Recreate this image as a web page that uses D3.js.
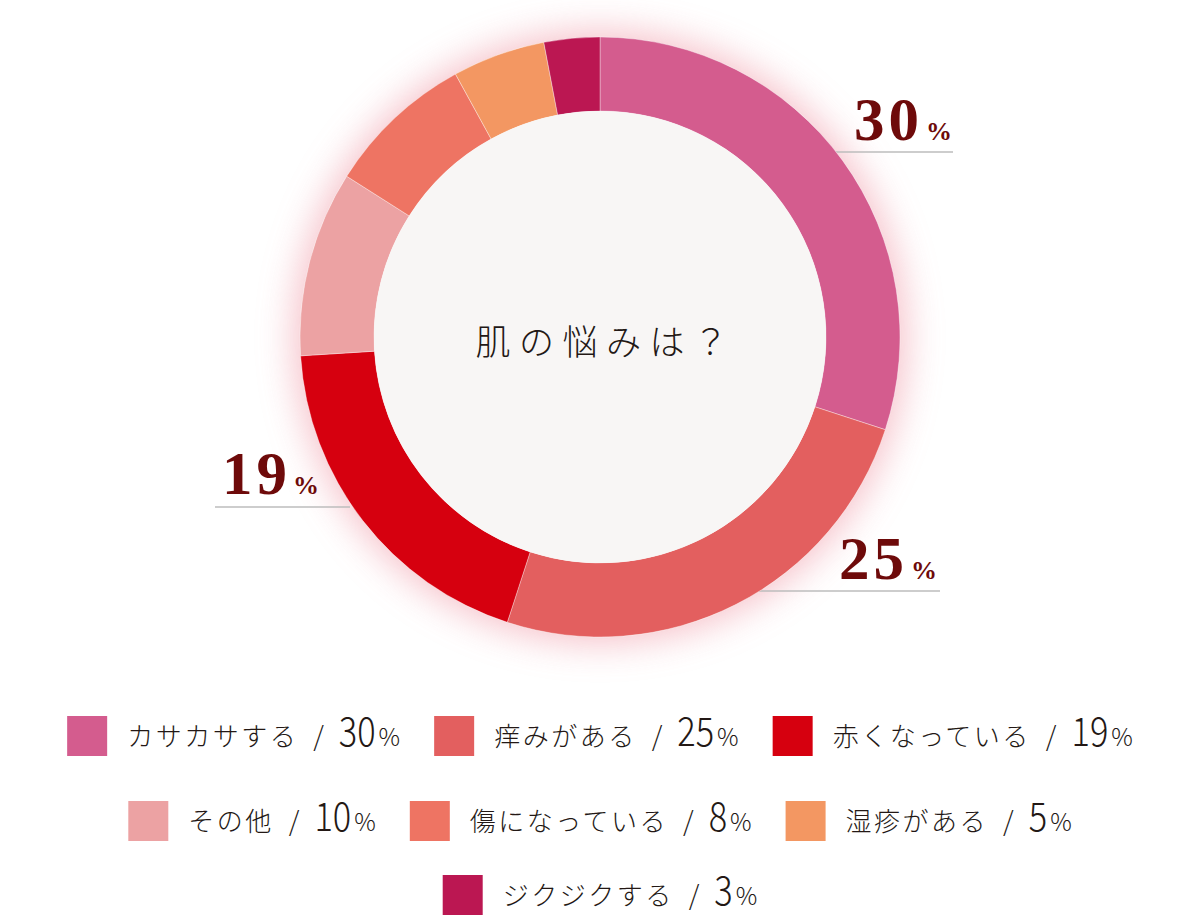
<!DOCTYPE html>
<html><head><meta charset="utf-8">
<script src="https://cdn.jsdelivr.net/npm/d3@7"></script>
<style>
html,body{margin:0;padding:0;background:#fff;}
svg{display:block;}
</style></head>
<body>
<svg id="chart" width="1200" height="918"></svg>
<script>
// ---- data ----
const categories = ["カサカサする","痒みがある","赤くなっている","その他","傷になっている","湿疹がある","ジクジクする"];
const values = [30,25,19,10,8,5,3];
const colors = ["#D45C8E","#E35F5F","#D6000F","#ECA2A3","#EE7463","#F39762","#BB1752"];
const centerTitle = "肌の悩みは？";
const calloutIndex = [0,1,2];           // slices with big callout labels
const legendRows = [[0,1,2],[3,4,5],[6]];

// ---- layout ----
const W = 1200, cx = 600, cy = 337, R = 300, r = 226;
const svg = d3.select("#chart");
const defs = svg.append("defs");
const f = defs.append("filter").attr("id","glow").attr("x","-30%").attr("y","-30%").attr("width","160%").attr("height","160%");
f.append("feGaussianBlur").attr("stdDeviation",18);

// callout geometry (layout, not data)
const calloutLayout = [
  {tx:854, ty:140, lx1:835, lx2:953, ly:152, px:926},
  {tx:839, ty:579, lx1:755, lx2:940, ly:591, px:911},
  {tx:222, ty:494, lx1:215, lx2:350, ly:507, px:293}
];

// glow
svg.append("circle").attr("cx",cx).attr("cy",cy).attr("r",R+6)
  .attr("fill","#F2A7B3").attr("opacity",0.7).attr("filter","url(#glow)");

// callout lines (under donut)
const gl = svg.append("g");
calloutIndex.forEach((idx,k)=>{
  const L = calloutLayout[k];
  gl.append("line").attr("x1",L.lx1).attr("x2",L.lx2).attr("y1",L.ly).attr("y2",L.ly)
    .attr("stroke","#BDBDBD").attr("stroke-width",1.5);
});

// donut
const pie = d3.pie().sort(null).value(d=>d);
const arc = d3.arc().innerRadius(r).outerRadius(R);
const g = svg.append("g").attr("transform",`translate(${cx},${cy})`);
g.append("circle").attr("r",R).attr("fill","#fff");
g.selectAll("path").data(pie(values)).enter().append("path")
  .attr("d",arc).attr("fill",(d,i)=>colors[i])
  .attr("stroke","rgba(255,255,255,0.35)").attr("stroke-width",1);
g.append("circle").attr("r",r).attr("fill","#F8F6F5");
g.append("text").attr("x",6).attr("y",18).attr("text-anchor","middle")
  .attr("font-family","'Noto Sans CJK JP', sans-serif").attr("font-size",35).attr("font-weight",300)
  .attr("letter-spacing",8.5).attr("fill","#231815").text(centerTitle);

// callout labels
const gt = svg.append("g");
calloutIndex.forEach((idx,k)=>{
  const L = calloutLayout[k];
  gt.append("text").attr("x",L.tx).attr("y",L.ty)
    .attr("font-family","'Liberation Serif', serif").attr("font-weight","bold")
    .attr("font-size",61).attr("letter-spacing",4).attr("fill","#6E0A0A")
    .text(values[idx]);
  gt.append("text").attr("x",L.px).attr("y",L.ty)
    .attr("font-family","'Liberation Serif', serif").attr("font-weight","bold")
    .attr("font-size",26).attr("fill","#6E0A0A").text("%");
});

// legend
const rowTops = [716, 801, 875];
const sq = 40, gapText = 20, gapItem = 34;
const jaFont = "'Noto Sans CJK JP', sans-serif";
const numScale = 0.86;
const lg = svg.append("g");
legendRows.forEach((row,ri)=>{
  const rowG = lg.append("g");
  let x = 0;
  const by = rowTops[ri] + 30;
  row.forEach(idx=>{
    const item = rowG.append("g").attr("transform",`translate(${x},0)`);
    item.append("rect").attr("x",0).attr("y",rowTops[ri]).attr("width",sq).attr("height",sq)
      .attr("fill",colors[idx]);
    let cx2 = sq + gapText;
    const name = item.append("text").attr("x",cx2).attr("y",by).attr("fill","#231815")
      .attr("font-family",jaFont).attr("font-size",26).attr("font-weight",300)
      .attr("letter-spacing",2.5).text(categories[idx]);
    cx2 += name.node().getComputedTextLength() + 15;
    const sl = item.append("text").attr("x",cx2).attr("y",by).attr("fill","#231815")
      .attr("font-family",jaFont).attr("font-size",27).attr("font-weight",300).text("/");
    cx2 += sl.node().getComputedTextLength() + 15;
    const num = item.append("text").attr("transform",`translate(${cx2},${by}) scale(${numScale},1)`)
      .attr("fill","#231815").attr("font-family",jaFont).attr("font-size",40).attr("font-weight",300)
      .text(values[idx]);
    cx2 += num.node().getComputedTextLength()*numScale + 3;
    const pc = item.append("text").attr("x",cx2).attr("y",by)
      .attr("fill","#231815").attr("font-family",jaFont).attr("font-size",24).attr("font-weight",300)
      .text("%");
    cx2 += pc.node().getComputedTextLength();
    x += cx2 + gapItem;
  });
  const total = x - gapItem;
  rowG.attr("transform",`translate(${(W-total)/2},0)`);
});
</script>
</body></html>
